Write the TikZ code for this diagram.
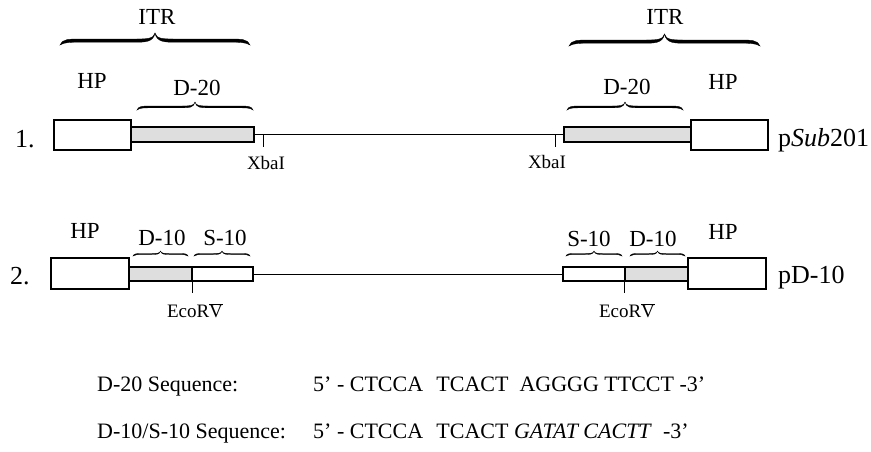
\documentclass[tikz,border=0pt]{standalone}
\usepackage{fontspec}
\setmainfont{Liberation Serif}
\newcommand{\romanV}{\makebox[0pt][l]{\rule[0.63em]{0.72em}{0.055em}}V}
% Tapered brace: #1 left x, #2 right x, #3 y of the ends, #4 height of the tip,
% #5 arm thickness, #6 length of the end curls
\newcommand{\dnabrace}[6]{%
  \pgfmathsetmacro{\brA}{#1}%
  \pgfmathsetmacro{\brB}{#2}%
  \pgfmathsetmacro{\brM}{(#1+#2)/2}%
  \pgfmathsetmacro{\brO}{#3-#4/2}%
  \pgfmathsetmacro{\brS}{#3-#4/2+#5}%
  \pgfmathsetmacro{\brT}{#3-#4}%
  \fill[draw, line width=0.35pt]
    (\brA,#3) .. controls (\brA+0.1*#6,\brO) and (\brA+0.45*#6,\brO) .. (\brA+#6,\brO)
    -- (\brM-#6,\brO) .. controls (\brM-0.45*#6,\brO) and (\brM-0.05*#6,\brO) .. (\brM,\brT)
    .. controls (\brM+0.05*#6,\brO) and (\brM+0.45*#6,\brO) .. (\brM+#6,\brO)
    -- (\brB-#6,\brO) .. controls (\brB-0.45*#6,\brO) and (\brB-0.1*#6,\brO) .. (\brB,#3)
    .. controls (\brB-0.2*#6,\brS) and (\brB-0.55*#6,\brS) .. (\brB-#6,\brS)
    -- (\brM+#6,\brS) .. controls (\brM+0.5*#6,\brS) and (\brM+0.08*#6,\brS) .. (\brM,\brT)
    .. controls (\brM-0.08*#6,\brS) and (\brM-0.5*#6,\brS) .. (\brM-#6,\brS)
    -- (\brA+#6,\brS) .. controls (\brA+0.55*#6,\brS) and (\brA+0.2*#6,\brS) .. (\brA,#3) -- cycle;
}
\begin{document}
\begin{tikzpicture}[x=1pt,y=-1pt,
  seg/.style={draw, line width=1.1pt, inner sep=0pt, outer sep=0pt},
  hpbox/.style={seg, fill=white},
  dbox/.style={seg, fill=black!13},
  sbox/.style={seg, fill=white},
  lab/.style={font=\fontsize{23}{24}\selectfont, inner sep=0pt, anchor=base},
  big/.style={font=\fontsize{26}{27}\selectfont, inner sep=0pt, anchor=base west},
  site/.style={font=\fontsize{19}{20}\selectfont, inner sep=0pt, anchor=base},
  seqtxt/.style={font=\fontsize{22}{23}\selectfont, inner sep=0pt, anchor=base west},
  thin line/.style={line width=0.9pt}
]
\useasboundingbox (0,0) rectangle (871,451);

% ---------- construct 1: pSub201 ----------
\node[dbox, minimum width=123pt, minimum height=15pt] (d20L) at (192.5,134.5) {};
\node[dbox, minimum width=127pt, minimum height=15pt] (d20R) at (627.5,134.5) {};
\node[hpbox, minimum width=77pt, minimum height=30pt] (hp1L) at (92.5,135) {};
\node[hpbox, minimum width=77pt, minimum height=30pt] (hp1R) at (729.5,135) {};
\draw[thin line] (d20L.east) -- (d20R.west);

\coordinate (xbaL) at (263,135);
\coordinate (xbaR) at (555,135);
\draw[thin line] (xbaL) -- ++(0,12);
\draw[thin line] (xbaR) -- ++(0,12);
\node[site] (xbaLt) at (266,169) {XbaI};
\node[site] (xbaRt) at (547,168) {XbaI};

\dnabrace{60}{250}{45}{12}{3.2}{20}
\dnabrace{569}{760}{46}{12}{3.2}{20}
\node[lab] (itrL) at (157,24) {ITR};
\node[lab] (itrR) at (665,24) {ITR};

\dnabrace{137}{253}{110}{8}{1.8}{13}
\dnabrace{567}{683}{110}{8}{1.8}{13}
\node[lab] (d20Lt) at (197,95) {D-20};
\node[lab] (d20Rt) at (627,94) {D-20};
\node[lab] (hp1Lt) at (92,88) {HP};
\node[lab] (hp1Rt) at (723,89) {HP};

\node[big] (n1) at (15,147) {1.};
\node[big] (psub) at (778,146) {p\textit{Sub}201};

% ---------- construct 2: pD-10 ----------
\node[dbox, minimum width=63pt, minimum height=14pt] (d10L) at (160.5,274) {};
\node[sbox, minimum width=61pt, minimum height=14pt] (s10L) at (222.5,274) {};
\node[sbox, minimum width=62pt, minimum height=14pt] (s10R) at (594,274) {};
\node[dbox, minimum width=63pt, minimum height=14pt] (d10R) at (656.5,274) {};
\node[hpbox, minimum width=78pt, minimum height=31pt] (hp2L) at (90,273.5) {};
\node[hpbox, minimum width=78pt, minimum height=31pt] (hp2R) at (727,273.5) {};
\draw[thin line] (s10L.east) -- (s10R.west);

\coordinate (ecoL) at (192,281);
\coordinate (ecoR) at (624,281);
\draw[thin line] (ecoL) -- ++(0,12);
\draw[thin line] (ecoR) -- ++(0,12);
\node[site] (ecoLt) at (195,317) {EcoR\romanV};
\node[site] (ecoRt) at (627,317) {EcoR\romanV};

\dnabrace{133}{188}{256}{5}{1.0}{9}
\dnabrace{194}{250}{256}{5}{1.0}{9}
\dnabrace{566}{622}{256}{5}{1.0}{9}
\dnabrace{630}{685}{256}{5}{1.0}{9}
\node[lab] (d10Lt) at (162,245) {D-10};
\node[lab] (s10Lt) at (225,245) {S-10};
\node[lab] (s10Rt) at (589,246) {S-10};
\node[lab] (d10Rt) at (653,246) {D-10};
\node[lab] (hp2Lt) at (85,238) {HP};
\node[lab] (hp2Rt) at (723,239) {HP};

\node[big] (n2) at (10,284) {2.};
\node[big] (pd10) at (778,283) {pD-10};

% ---------- sequences ----------
\node[seqtxt] (seq1h) at (97,391) {D-20 Sequence:};
\node[seqtxt] (seq1) at (313,391) {5' - CTCCA\hspace{0.6em}TCACT\hspace{0.5em}AGGGG TTCCT -3'};
\node[seqtxt] (seq2h) at (97,438) {D-10/S-10 Sequence:};
\node[seqtxt] (seq2) at (313,438) {5' - CTCCA\hspace{0.6em}TCACT \textit{GATAT CACTT}\hspace{0.5em}-3'};
\end{tikzpicture}
\end{document}
